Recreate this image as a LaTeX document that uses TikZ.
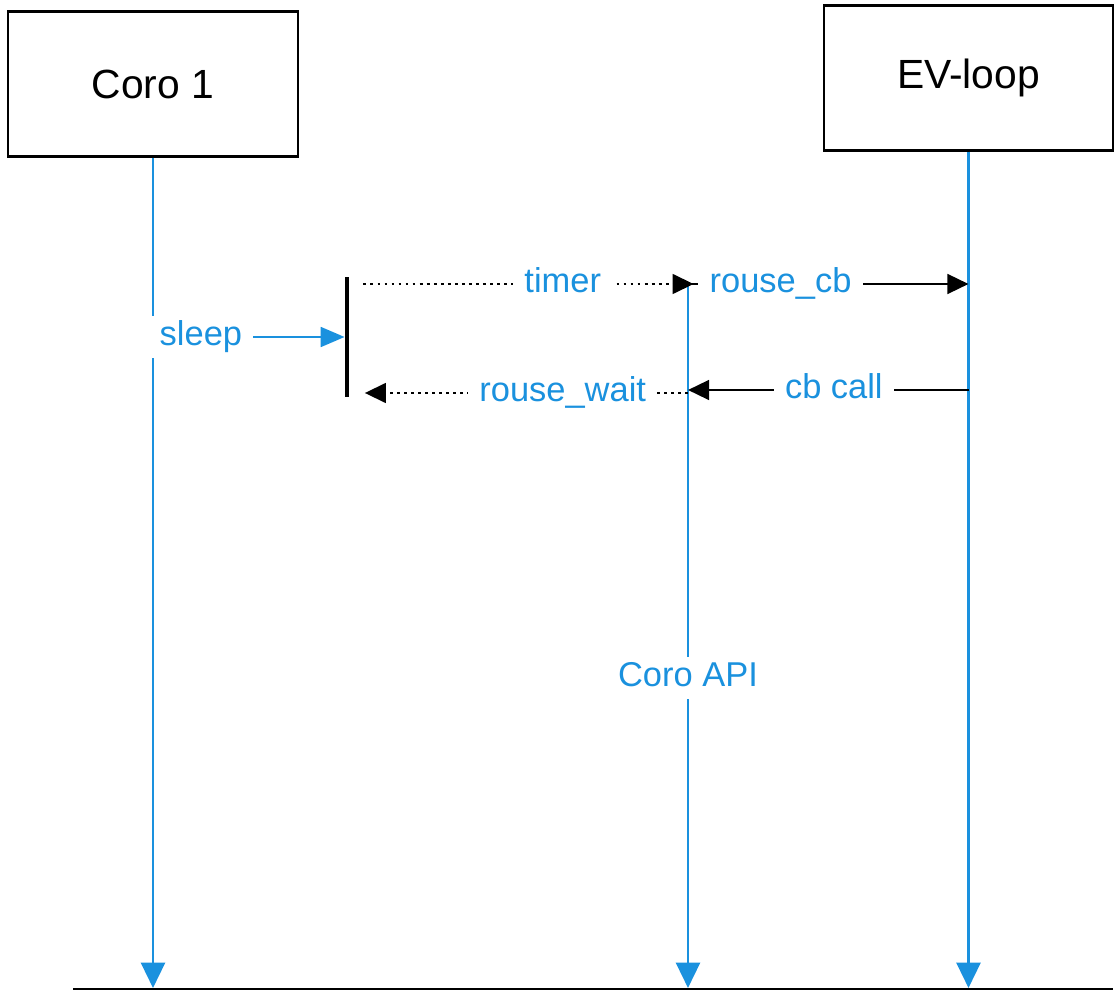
\documentclass[tikz,border=0pt]{standalone}
\usepackage{fontspec}
\setmainfont{Liberation Sans}
\usepackage{xcolor}
\usetikzlibrary{arrows.meta,positioning}
\definecolor{lifeblue}{RGB}{26,145,222}
\tikzstyle{actor} = [draw, line width=1.6pt, inner sep=0pt,
    minimum width=206pt, minimum height=103pt, font=\fontsize{29}{34}\selectfont]
\tikzstyle{bar} = [fill=black, inner sep=0pt, minimum width=3pt, minimum height=85pt]
\tikzstyle{lifeline} = [draw=lifeblue, line width=1.9pt, -{Triangle[length=18pt,width=17pt]}]
\tikzstyle{line} = [draw, line width=1.9pt, -{Triangle[length=15pt,width=14pt]}]
\tikzstyle{dotline} = [line, dash pattern=on 2pt off 3pt]
\tikzstyle{bluearrow} = [draw=lifeblue, line width=1.9pt, -{Triangle[length=17pt,width=14pt]}]
\tikzstyle{lbl} = [fill=white, text=lifeblue, font=\fontsize{24.5}{28}\selectfont,
    text height=12pt, text depth=0pt, inner xsep=8pt, inner ysep=9pt]

\begin{document}
\begin{tikzpicture}[x=0.025cm, y=-0.025cm]
    \useasboundingbox (0,0) rectangle (1120,991);
    % Place nodes
    \node [actor] (coro) at (153,84) {Coro 1};
    \node [actor] (ev) at (968.5,78) {EV-loop};
    \node [bar] (act) at (347,337) {};
    \coordinate (coroEnd) at (153,988);
    \coordinate (evEnd) at (ev.south |- coroEnd);
    \coordinate (apiTop) at (688,284);
    \coordinate (apiEnd) at (apiTop |- coroEnd);
    \coordinate (sleepS) at (coro.south |- act);
    \coordinate (tmrS) at (act.east |- apiTop);
    \coordinate (evCb) at (ev.south |- apiTop);
    \coordinate (evCall) at (968.5,390);
    \coordinate (apiCall) at (688,390);
    \coordinate (apiWait) at (688,393);
    \coordinate (waitE) at (act.east |- apiWait);
    \coordinate (baseL) at (73,989);
    \coordinate (baseR) at (1113,989);

    % Draw lifelines
    \path [lifeline] (coro) -- (coroEnd);
    \path [lifeline] (ev) -- (evEnd);
    \path [lifeline] (apiTop) -- node [lbl, pos=0.56] {Coro API} (apiEnd);
    \draw [line width=1.4pt] (baseL) -- (baseR);

    % Draw messages
    \path [bluearrow] (sleepS) -- node [lbl, pos=0.25] {sleep} (act);
    \path [dotline, shorten <=10pt, shorten >=-4pt] (tmrS) -- node [lbl, pos=0.63] {timer} (apiTop);
    \path [line] (apiTop) -- node [lbl, pos=0.33] {rouse\_cb} (evCb);
    \path [line] (evCall) -- node [lbl, pos=0.48] {cb call} (apiCall);
    \path [dotline, shorten >=11pt] (apiWait) -- node [lbl, pos=0.37] {rouse\_wait} (waitE);
\end{tikzpicture}
\end{document}
